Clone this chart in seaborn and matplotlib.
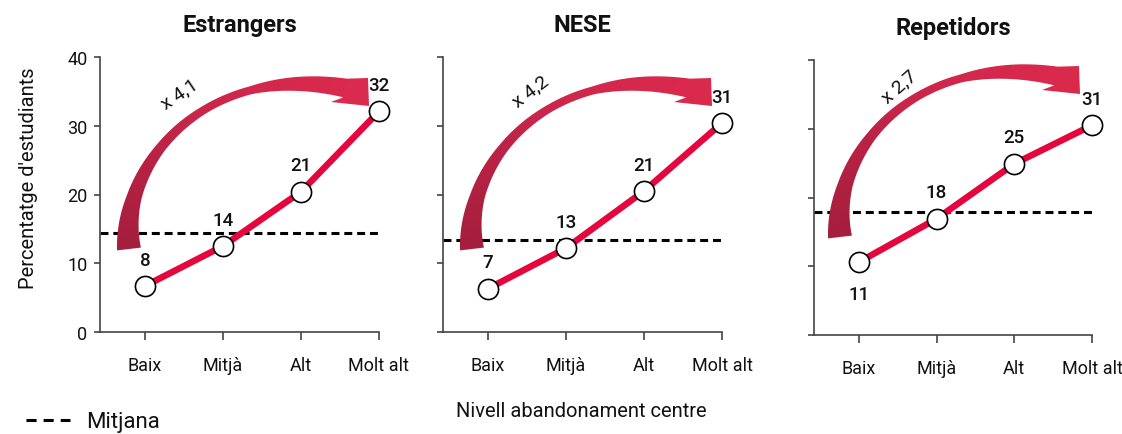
import numpy as np
import pandas as pd
import matplotlib
matplotlib.use("Agg")
import matplotlib.pyplot as plt
import seaborn as sns
from matplotlib.patches import Polygon
from matplotlib.lines import Line2D
from matplotlib.colors import LinearSegmentedColormap

# Data
levels = ["Baix", "Mitjà", "Alt", "Molt alt"]
titles = ["Estrangers", "NESE", "Repetidors"]
estrangers = [6.7, 12.5, 20.4, 32.1]
nese = [6.3, 12.2, 20.5, 30.4]
repetidors = [10.6, 16.9, 24.9, 30.5]
labels_estrangers = ["8", "14", "21", "32"]
labels_nese = ["7", "13", "21", "31"]
labels_repetidors = ["11", "18", "25", "31"]
means = [14.4, 13.4, 17.9]
ratios = ["x 4,1", "x 4,2", "x 2,7"]

series = [estrangers, nese, repetidors]
point_labels = [labels_estrangers, labels_nese, labels_repetidors]

sns.set_theme(style="ticks")
plt.rcParams["font.family"] = ["Roboto", "DejaVu Sans"]

W, H = 1122, 435
fig = plt.figure(figsize=(W / 100, H / 100), dpi=100)

RED = "#E4063C"
DARK = "#444444"
INK = "#111111"
arrow_cmap = LinearSegmentedColormap.from_list("arr", ["#A51E3D", "#C8264A", "#DA2A4D"])

# axes boxes in image pixels: left, right, top, bottom
boxes = [(100, 379, 58, 333), (443, 722, 58, 333), (814, 1092, 61, 336)]
# arrow offsets (pixels) relative to the first panel
arrow_off = [(0, 0), (343, 0), (711, -12)]
ratio_pos = [(179, 94), (531, 92), (899, 87)]
ratio_rot = [34, 37, 41]

# overlay in image pixel coordinates for the curved arrows
ov = fig.add_axes([0, 0, 1, 1], zorder=5)
ov.set_xlim(0, W)
ov.set_ylim(H, 0)
ov.axis("off")


def draw_arrow(dx, dy):
    # curved "x N" arrow, tapered, darker at the tail
    off = np.array([dx, dy])
    P0 = np.array([129, 250]) + off
    P1 = np.array([119, 165]) + off
    P2 = np.array([205, 63]) + off
    P3 = np.array([345, 89]) + off
    t = np.linspace(0, 1, 80)[:, None]
    pts = (1 - t) ** 3 * P0 + 3 * (1 - t) ** 2 * t * P1 + 3 * (1 - t) * t ** 2 * P2 + t ** 3 * P3
    der = 3 * (1 - t) ** 2 * (P1 - P0) + 6 * (1 - t) * t * (P2 - P1) + 3 * t ** 2 * (P3 - P2)
    der = der / np.linalg.norm(der, axis=1)[:, None]
    nrm = np.column_stack([der[:, 1], -der[:, 0]])
    w = np.interp(t[:, 0], [0, 0.2, 0.4, 0.6, 0.75, 0.88, 1.0],
                  [24, 15, 10, 8, 8, 14, 19]) / 2
    outer = pts + nrm * w[:, None]
    inner = pts - nrm * w[:, None]
    head = np.array([[368, 79], [369, 107], [331, 103]]) + off
    shape = np.vstack([outer, head, inner[::-1]])
    patch = Polygon(shape, closed=True, facecolor="none", edgecolor="none")
    ov.add_patch(patch)

    # colour follows the angle around the arc centre
    cx, cy = 245 + dx, 190 + dy
    xs = np.arange(100 + dx, 380 + dx)
    ys = np.arange(50 + dy, 270 + dy)
    gx, gy = np.meshgrid(xs, ys)
    ang = np.degrees(np.arctan2(gy - cy, gx - cx))
    ang = np.where(ang < 90, ang + 360, ang)
    val = np.clip((ang - 152) / (315 - 152), 0, 1)
    im = ov.imshow(val, extent=[xs[0], xs[-1] + 1, ys[-1] + 1, ys[0]],
                   cmap=arrow_cmap, vmin=0, vmax=1, interpolation="bilinear")
    im.set_clip_path(patch)
    ov.set_xlim(0, W)
    ov.set_ylim(H, 0)


for k in range(3):
    l, r, top, bot = boxes[k]
    ax = fig.add_axes([l / W, 1 - bot / H, (r - l) / W, (bot - top) / H])
    df = pd.DataFrame({"x": np.arange(4), "y": series[k]})
    ax.axhline(means[k], color="black", lw=2.2, dashes=(2.6, 1.6), zorder=1)
    sns.lineplot(data=df, x="x", y="y", ax=ax, color=RED, lw=4.7, zorder=3,
                 marker="o", markersize=14.5, markerfacecolor="white",
                 markeredgecolor="black", markeredgewidth=1.2, clip_on=False)
    for i, (v, s) in enumerate(zip(series[k], point_labels[k])):
        off = 19
        if k == 2 and i == 0:
            off = -23
        ax.annotate(s, (i, v), xytext=(0, off), textcoords="offset points",
                    ha="center", va="center", fontsize=13.5, fontweight="medium",
                    color=INK)
    ax.set_xlim(-0.577, 3)
    ax.set_ylim(0, 40)
    ax.set_xticks(range(4))
    ax.set_xticklabels(levels)
    ax.set_yticks([0, 10, 20, 30, 40])
    if k > 0:
        ax.set_yticklabels([])
    ax.set_xlabel("")
    ax.set_ylabel("")
    sns.despine(ax=ax)
    for sp in ["left", "bottom"]:
        ax.spines[sp].set_color(DARK)
        ax.spines[sp].set_linewidth(1.2)
    ax.tick_params(axis="x", length=6, width=1.2, color=DARK, pad=11,
                   labelsize=13, labelcolor=INK)
    ax.tick_params(axis="y", length=4, width=1.2, color=DARK, pad=5,
                   labelsize=13, labelcolor=INK)
    ax.set_title(titles[k], pad=19, fontsize=17, fontweight="bold", color=INK)
    ax.patch.set_alpha(0)

    draw_arrow(*arrow_off[k])
    ov.text(*ratio_pos[k], ratios[k], rotation=ratio_rot[k], ha="center",
            va="center", fontsize=14, color=INK)

ov.text(28, 178, "Percentatge d'estudiants", rotation=90,
        ha="center", va="center", fontsize=14.5, color=INK)
ov.text(581, 412, "Nivell abandonament centre", ha="center",
        va="center", fontsize=14.5, color=INK)

handle = Line2D([], [], color="black", lw=2.2, dashes=(3.3, 2.3))
fig.legend([handle], ["Mitjana"], loc="center left",
           bbox_to_anchor=(6 / W, 1 - 423 / H), frameon=False, fontsize=16,
           handlelength=2.0, handletextpad=0.7, labelcolor=INK)

fig.savefig("out.png", dpi=100)
